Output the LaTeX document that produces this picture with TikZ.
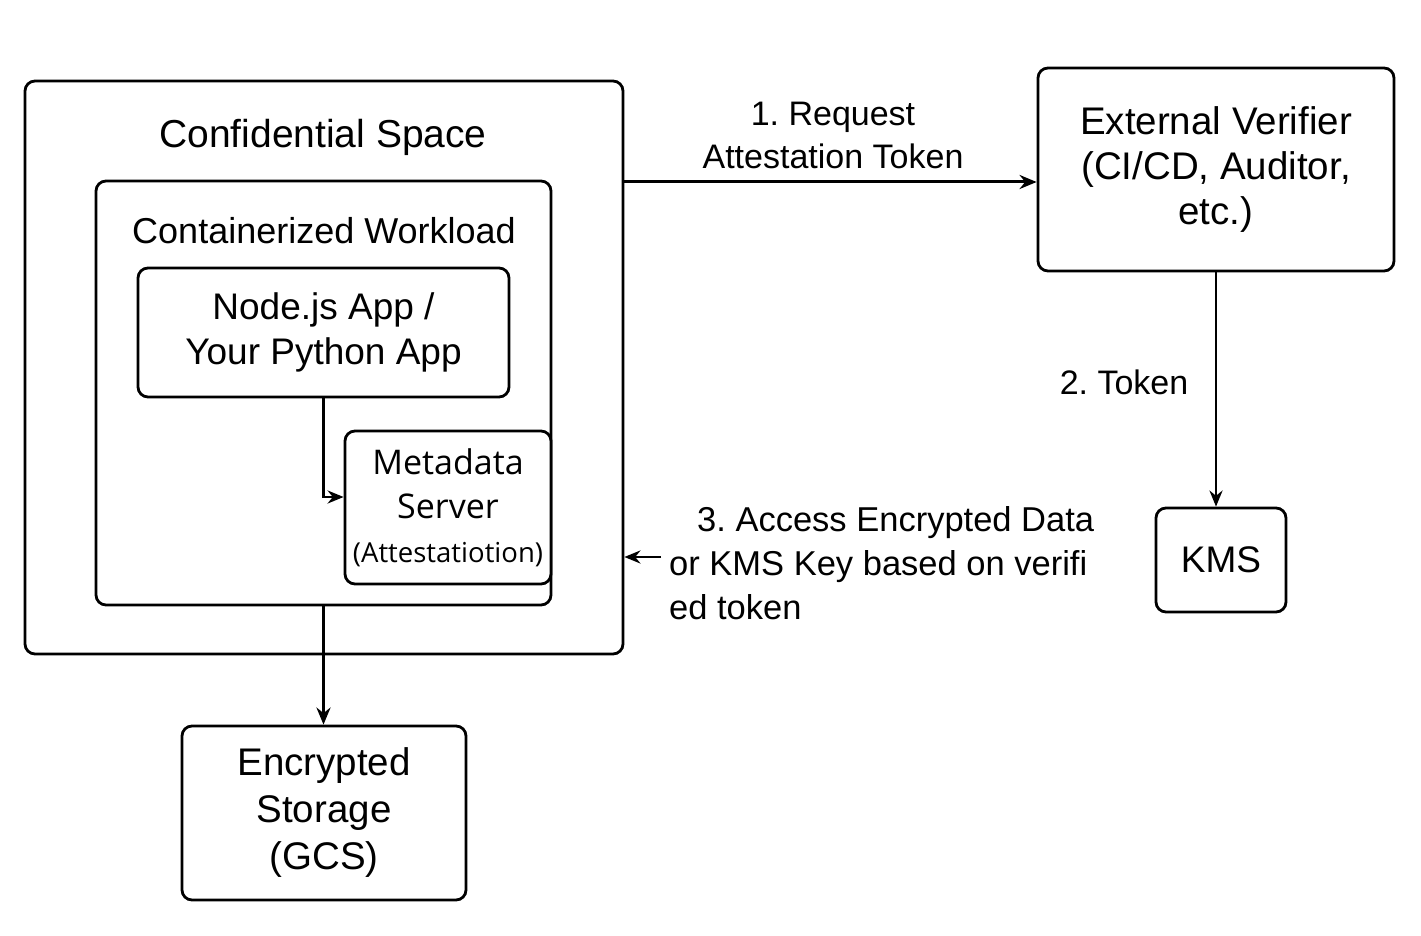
\documentclass[tikz,border=0pt]{standalone}
\usepackage{fontspec}
\setmainfont{Liberation Sans}
\newfontfamily\osans{Open Sans}
\usetikzlibrary{arrows.meta}
\frenchspacing
\begin{document}
\begin{tikzpicture}[x=1pt,y=-1pt,
  box/.style={draw, line width=2.8pt, rounded corners=10pt, inner sep=0pt, align=center},
  big/.style={font=\fontsize{37}{45}\selectfont},
  lbl/.style={font=\fontsize{34}{43}\selectfont, inner sep=0pt},
  arr/.style={-{Stealth[length=17pt,width=14pt]}, line width=3pt},
  thinarr/.style={-{Stealth[length=16pt,width=13pt]}, line width=2.7pt},
]
\path[fill=white] (0,0) rectangle (1421,936);
% Confidential Space
\node[box, minimum width=598pt, minimum height=573pt] (cs) at (324,367.5) {};
\node[anchor=base, inner sep=0pt, font=\fontsize{39}{45}\selectfont] (cst) at (323,148) {Confidential Space};
% Containerized Workload
\node[box, minimum width=455pt, minimum height=424pt] (wl) at (323.5,393) {};
\node[anchor=base, inner sep=0pt, font=\fontsize{36}{45}\selectfont] (wlt) at (324,243) {Containerized Workload};
% App
\node[box, big, minimum width=371pt, minimum height=129pt] (app) at (323.5,332.5) {Node.js App /\\Your Python App};
% Metadata server
\node[box, minimum width=206pt, minimum height=153pt, fill=white,
  font=\osans\fontsize{34}{44}\selectfont] (meta) at (448,507.5)
  {Metadata\\Server\\{\fontsize{27.5}{42}\selectfont (Attestatiotion)}};
% Storage
\node[box, font=\fontsize{38.5}{47}\selectfont, minimum width=284pt, minimum height=174pt] (st) at (324,813) {Encrypted\\Storage\\(GCS)};
% Verifier
\node[box, font=\fontsize{38.5}{45}\selectfont, minimum width=356pt, minimum height=203pt] (ver) at (1216,169.5) {External Verifier\\(CI/CD, Auditor,\\etc.)};
% KMS
\node[box, big, minimum width=130pt, minimum height=104pt] (kms) at (1221,560) {KMS};
% connectors
\draw[thinarr] (app.south) |- ([yshift=10.5pt]meta.west);
\draw[arr] (wl.south) -- (wl.south |- st.north);
\coordinate (a1) at (623,182);
\draw[arr] (a1) -- (a1 -| ver.west);
\draw[thinarr] (ver.south) -- (ver.south |- kms.north);
\coordinate (a3) at (661,557);
\draw[thinarr] (a3) -- (a3 -| cs.east);
% labels
\node[lbl, align=center] (l1) at (833,135) {1. Request\\Attestation Token};
\node[lbl, anchor=base] (l2) at (1124,394) {2. Token};
\node[lbl, align=left, anchor=west, font=\fontsize{34.5}{44}\selectfont] (l3) at (669,563) {\hspace*{28pt}3. Access Encrypted Data\\or KMS Key based on verifi\\ed token};
\end{tikzpicture}
\end{document}
